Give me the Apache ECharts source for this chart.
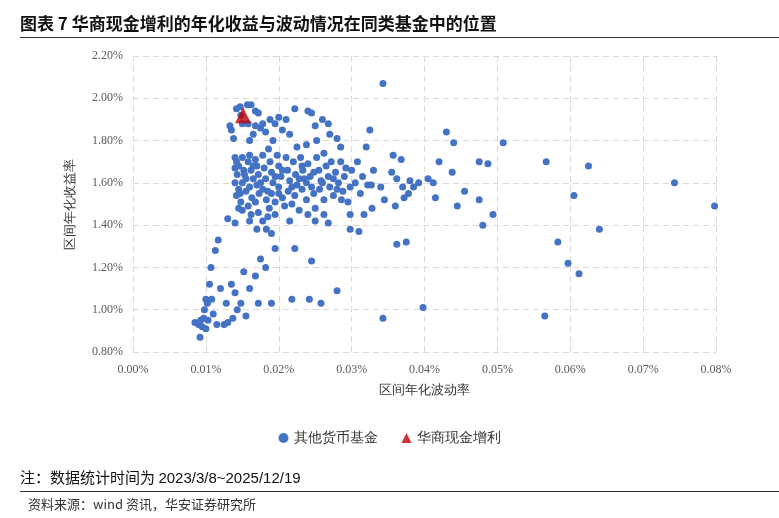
<!DOCTYPE html>
<html>
<head>
<meta charset="utf-8">
<script src="https://cdn.jsdelivr.net/npm/echarts@6/dist/echarts.min.js"></script>
<style>
  body { margin:0; background:#fff; font-family:"Noto Sans CJK SC", sans-serif; }
  #title { position:absolute; left:20px; top:10px; font-size:17px; font-weight:bold; color:#111; }
  #rule1 { position:absolute; left:20px; right:0; top:37px; border-top:1px solid #333; }
  #note { position:absolute; left:20px; top:466px; font-size:15px; color:#111; }
  #rule2 { position:absolute; left:20px; right:0; top:491px; border-top:1px solid #333; }
  #src { position:absolute; left:28px; top:494px; font-size:13px; color:#333; }
  #chart { position:absolute; left:0; top:0; width:779px; height:518px; }
</style>
</head>
<body>
<div id="chart"></div>
<div id="title">图表 7 华商现金增利的年化收益与波动情况在同类基金中的位置</div>
<div id="rule1"></div>
<div id="note">注：数据统计时间为 <span style="font-family:'Liberation Sans'">2023/3/8~2025/12/19</span></div>
<div id="rule2"></div>
<div id="src">资料来源：wind 资讯，华安证券研究所</div>
<script>
// x: 区间年化波动率 (%), y: 区间年化收益率 (%)
var otherFunds = [
[0.0565,0.97],[0.0583,1.32],[0.0597,1.22],[0.0612,1.17],[0.0640,1.38],[0.0605,1.54],[0.0625,1.68],[0.0567,1.70],[0.0743,1.60],[0.0798,1.49],
[0.0508,1.79],[0.0487,1.69],[0.0475,1.70],[0.0494,1.45],[0.0475,1.52],[0.0480,1.40],[0.0455,1.56],[0.0438,1.65],[0.0445,1.49],[0.0440,1.79],
[0.0430,1.84],[0.0420,1.70],[0.0415,1.53],[0.0412,1.60],[0.0398,1.01],[0.0343,2.07],[0.0343,0.96],[0.0375,1.32],[0.0362,1.31],[0.0370,1.58],
[0.0368,1.71],[0.0357,1.73],[0.0380,1.61],[0.0385,1.58],[0.0392,1.60],[0.0405,1.62],[0.0378,1.55],[0.0360,1.49],[0.0362,1.62],[0.0355,1.65],
[0.0372,1.53],[0.0345,1.52],[0.0325,1.85],[0.0320,1.77],[0.0330,1.66],[0.0340,1.58],[0.0327,1.59],[0.0317,1.45],[0.0310,1.37],[0.0298,1.38],
[0.0328,1.48],[0.0280,1.09],[0.0258,1.03],[0.0245,1.23],[0.0218,1.05],[0.0222,1.29],[0.0242,1.05],[0.0298,1.45],
[0.0085,0.94],[0.0090,0.93],[0.0093,0.95],[0.0095,0.92],[0.0097,0.96],[0.0100,0.91],[0.0092,0.87],[0.0098,1.00],[0.0102,1.03],[0.0100,1.05],
[0.0108,1.05],[0.0103,0.95],[0.0110,0.98],[0.0115,0.93],[0.0125,0.93],[0.0120,1.10],[0.0105,1.12],[0.0107,1.20],[0.0113,1.28],[0.0117,1.33],
[0.0130,0.94],[0.0128,1.03],[0.0140,1.08],[0.0135,1.12],[0.0143,1.00],[0.0137,0.96],[0.0155,0.97],[0.0148,1.03],[0.0152,1.18],[0.0160,1.10],
[0.0168,1.16],[0.0172,1.03],[0.0175,1.24],[0.0182,1.20],[0.0190,1.03],[0.0190,1.36],[0.0178,1.42],[0.0170,1.38],[0.0162,1.45],[0.0185,1.44],
[0.0200,1.55],[0.0195,1.29],[0.0130,1.43],[0.0140,1.41],[0.0145,1.48],[0.0150,1.47],
[0.0133,1.87],[0.0135,1.85],[0.0138,1.81],[0.0142,1.95],[0.0147,1.96],[0.0150,1.88],[0.0157,1.97],[0.0162,1.97],[0.0168,1.94],[0.0172,1.93],
[0.0175,1.86],[0.0168,1.87],[0.0178,1.88],[0.0182,1.84],[0.0188,1.90],[0.0195,1.88],[0.0200,1.91],[0.0205,1.85],[0.0210,1.90],[0.0215,1.83],
[0.0222,1.95],[0.0240,1.94],[0.0245,1.93],[0.0250,1.87],[0.0260,1.90],[0.0268,1.88],[0.0270,1.83],[0.0280,1.81],[0.0285,1.77],[0.0160,1.80],
[0.0165,1.83],[0.0158,1.88],[0.0148,1.92],[0.0238,1.78],[0.0225,1.77],[0.0252,1.80],[0.0262,1.74],[0.0192,1.80],[0.0186,1.76],
[0.0140,1.72],[0.0142,1.70],[0.0140,1.67],[0.0143,1.64],[0.0140,1.60],[0.0145,1.57],[0.0142,1.54],[0.0148,1.51],[0.0145,1.68],[0.0150,1.72],
[0.0152,1.66],[0.0155,1.62],[0.0150,1.60],[0.0155,1.56],[0.0158,1.70],[0.0160,1.73],[0.0162,1.66],[0.0165,1.62],[0.0160,1.58],[0.0163,1.53],
[0.0158,1.49],[0.0168,1.71],[0.0170,1.68],[0.0172,1.64],[0.0170,1.59],[0.0173,1.55],[0.0168,1.51],[0.0178,1.73],[0.0180,1.67],[0.0182,1.62],
[0.0178,1.57],[0.0183,1.52],[0.0187,1.48],[0.0188,1.70],[0.0190,1.65],[0.0192,1.60],[0.0190,1.55],[0.0195,1.51],[0.0198,1.73],[0.0200,1.68],
[0.0203,1.63],[0.0200,1.58],[0.0205,1.53],[0.0208,1.49],[0.0210,1.72],[0.0212,1.66],[0.0215,1.61],[0.0213,1.56],[0.0218,1.50],[0.0220,1.70],
[0.0223,1.64],[0.0225,1.59],[0.0222,1.54],[0.0228,1.47],[0.0230,1.72],[0.0233,1.66],[0.0235,1.62],[0.0232,1.57],[0.0238,1.52],[0.0240,1.69],
[0.0243,1.63],[0.0245,1.58],[0.0248,1.55],[0.0250,1.48],[0.0252,1.72],[0.0255,1.66],[0.0258,1.61],[0.0256,1.57],[0.0262,1.52],[0.0265,1.68],
[0.0268,1.63],[0.0270,1.58],[0.0272,1.70],[0.0275,1.54],[0.0278,1.65],[0.0282,1.60],[0.0285,1.70],[0.0288,1.56],[0.0290,1.63],[0.0295,1.51],
[0.0300,1.66],[0.0305,1.60],[0.0262,1.45],[0.0240,1.45],[0.0215,1.42],[0.0195,1.45],[0.0172,1.46],[0.0268,1.41],[0.0250,1.42],[0.0183,1.38],
[0.0160,1.42],[0.0147,1.55],[0.0153,1.64],[0.0165,1.68],[0.0175,1.60],[0.0185,1.56],[0.0195,1.63],[0.0205,1.66],[0.0218,1.58],[0.0228,1.62],
[0.0238,1.60],[0.0248,1.65],[0.0260,1.60],[0.0275,1.62],[0.0280,1.57],[0.0292,1.67],[0.0298,1.58],[0.0308,1.70],[0.0312,1.55],[0.0286,1.52],
[0.0315,1.63],[0.0322,1.59],[0.0232,1.68]
];
var huashang = [[0.0151,1.92]];

var axisFont = { fontFamily:'Liberation Serif', fontSize:12, color:'#595959' };
var pct = function (v) { return v.toFixed(2) + '%'; };

var chart = echarts.init(document.getElementById('chart'));
chart.setOption({
  animation:false,
  grid:{ left:133, right:63, top:56, bottom:166 },
  xAxis:{
    type:'value', min:0, max:0.08, interval:0.01,
    name:'区间年化波动率', nameLocation:'middle', nameGap:32,
    nameTextStyle:{ fontSize:13, color:'#333' },
    axisLine:{ show:false }, axisTick:{ show:false },
    axisLabel:Object.assign({ formatter:pct, margin:12 }, axisFont),
    splitLine:{ lineStyle:{ type:[6,4], color:'#d9d9d9' } }
  },
  yAxis:{
    type:'value', min:0.8, max:2.2, interval:0.2,
    name:'区间年化收益率', nameLocation:'middle', nameGap:56, nameRotate:90,
    nameTextStyle:{ fontSize:13, color:'#333' },
    axisLine:{ show:false }, axisTick:{ show:false },
    axisLabel:Object.assign({ formatter:pct, margin:10 }, axisFont),
    splitLine:{ lineStyle:{ type:[6,4], color:'#d9d9d9' } }
  },
  legend:{
    bottom:68, left:'center', itemGap:24, itemWidth:10, itemHeight:10,
    textStyle:{ fontSize:14, color:'#333' },
    data:[{ name:'其他货币基金', icon:'circle' }, { name:'华商现金增利', icon:'triangle' }]
  },
  series:[
    { name:'其他货币基金', type:'scatter', data:otherFunds, symbolSize:7,
      itemStyle:{ color:'#4472c4', opacity:1 } },
    { name:'华商现金增利', type:'scatter', data:huashang, symbol:'triangle', symbolSize:16,
      itemStyle:{ color:'#c00000' }, z:5 }
  ]
});
</script>
</body>
</html>
